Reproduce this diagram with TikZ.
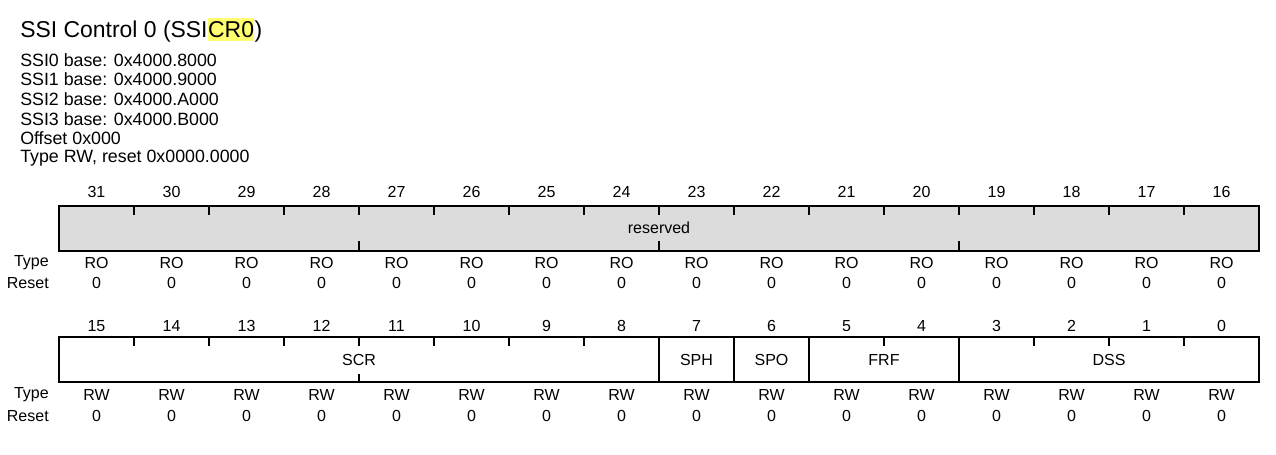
\documentclass[tikz,border=0pt]{standalone}
\usepackage{fontspec}
\setmainfont{Liberation Sans}
\usetikzlibrary{positioning}
\definecolor{resgray}{HTML}{DCDCDC}
\definecolor{hlyellow}{HTML}{FFFF70}

\begin{document}
\begin{tikzpicture}[x=0.75pt,y=-0.75pt,
    small/.style={font=\fontsize{12}{14}\selectfont},
    rowlab/.style={small, anchor=east, inner xsep=0pt},
    field/.style={draw, line width=1.5pt, small, minimum height=33.75pt, inner sep=0pt},
    tickmark/.style={line width=1.5pt}]

        \useasboundingbox (0,0) rectangle (1276,454);

        % Titel mit Markierung
        \node[anchor=base west, inner sep=0pt, font=\fontsize{17.2}{20}\selectfont] (title) at (20,37) {SSI Control 0 (SSI};
        \node[anchor=base west, inner xsep=0pt, inner ysep=2.5pt, fill=hlyellow, font=\fontsize{17.2}{20}\selectfont] (titlehl) at (title.base east) {CR0};
        \node[anchor=base west, inner sep=0pt, font=\fontsize{17.2}{20}\selectfont] (titleend) at (titlehl.base east) {)};

        % Basisadressen
        \foreach \txt [count=\i] in {{SSI0 base: 0x4000.8000}, {SSI1 base: 0x4000.9000}, {SSI2 base: 0x4000.A000}, {SSI3 base: 0x4000.B000}, {Offset 0x000}, {Type RW, reset 0x0000.0000}}
            \node[anchor=west, inner sep=0pt, font=\fontsize{13.35}{15}\selectfont] (info\i) at (20,{60+19.6*(\i-1)}) {\txt};

        % Bitnummern, Typ und Reset
        \node[rowlab] (typehi) at (49,263) {Type};
        \node[rowlab] (resethi) at (49,283) {Reset};
        \node[rowlab] (typelo) at (49,395) {Type};
        \node[rowlab] (resetlo) at (49,416) {Reset};
        \foreach \b in {0,...,15} {
            \pgfmathtruncatemacro{\hi}{31-\b}
            \pgfmathtruncatemacro{\lo}{15-\b}
            \node[small] (bit\hi) at ({96.5+75*\b},192) {\hi};
            \node[small] (type\hi) at ({96.5+75*\b},263) {RO};
            \node[small] (reset\hi) at ({96.5+75*\b},283) {0};
            \node[small] (bit\lo) at ({96.5+75*\b},326) {\lo};
            \node[small] (type\lo) at ({96.5+75*\b},395) {RW};
            \node[small] (reset\lo) at ({96.5+75*\b},416) {0};
        }

        % Oberes Register (31..16)
        \node[field, fill=resgray, minimum width=900pt] (reserved) at (659,228) {reserved};
        \foreach \i in {1,...,15}
            \draw[tickmark] ({59+75*\i},206) -- ++(0,9);
        \foreach \i in {4,8,12}
            \draw[tickmark] ({59+75*\i},250) -- ++(0,-9);

        % Unteres Register (15..0)
        \node[field, minimum width=450pt] (scr) at (359,359.5) {SCR};
        \node[field, minimum width=56.25pt] (sph) at (696.5,359.5) {SPH};
        \node[field, minimum width=56.25pt] (spo) at (771.5,359.5) {SPO};
        \node[field, minimum width=112.5pt] (frf) at (884,359.5) {FRF};
        \node[field, minimum width=225pt] (dss) at (1109,359.5) {DSS};
        \foreach \i in {1,...,7,11,13,14,15}
            \draw[tickmark] ({59+75*\i},337) -- ++(0,9);
        \draw[tickmark] (scr.south) -- ++(0,-9);

\end{tikzpicture}
\end{document}
